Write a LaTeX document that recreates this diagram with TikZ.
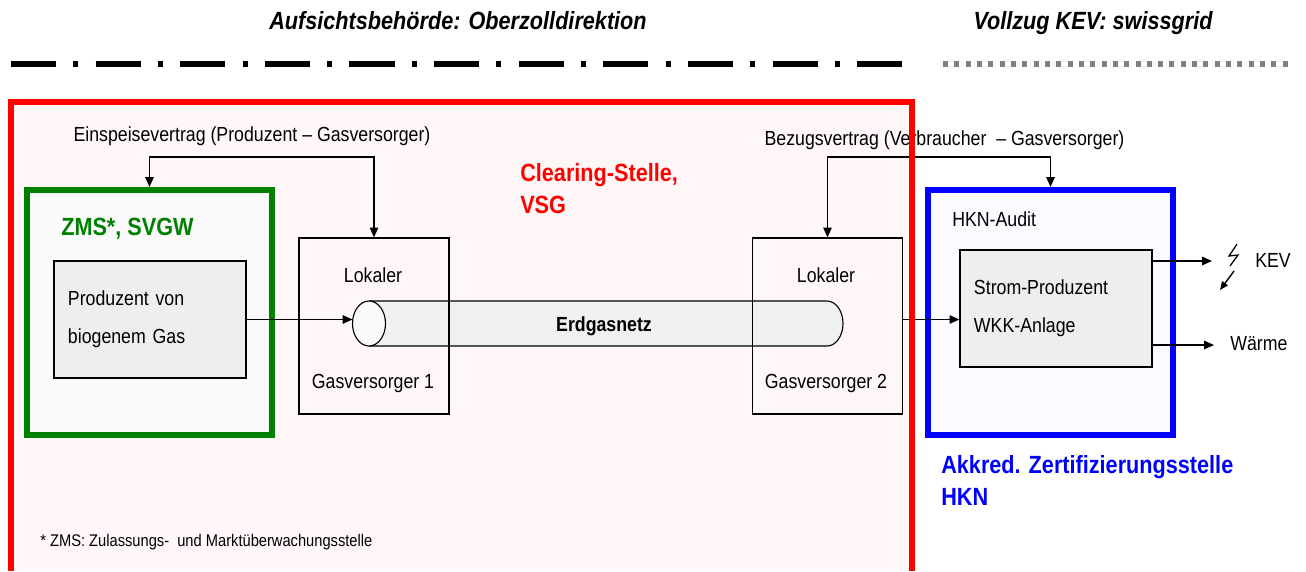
\documentclass[tikz,border=0pt]{standalone}
\usepackage{fontspec}
\setmainfont{Liberation Sans}[FakeStretch=0.87]
\usetikzlibrary{positioning,calc,arrows.meta}

\begin{document}
\begin{tikzpicture}[x=0.025cm, y=-0.025cm, every node/.style={inner sep=0pt, font=\fontsize{14.5pt}{17pt}\selectfont}]
    \tikzset{zone/.style={rectangle, draw, line width=4.25pt, minimum width=6.125cm, minimum height=6.125cm}}
    \tikzset{greybox/.style={rectangle, draw, line width=0.9pt, fill=gray!13, minimum width=4.8cm, minimum height=2.925cm, text width=4.1cm, align=left, font=\fontsize{14.5pt}{27.3pt}\selectfont}}
    \tikzset{gvbox/.style={rectangle, draw, line width=0.8pt, minimum width=3.75cm, minimum height=4.4cm}}
    \tikzset{head/.style={font=\bfseries\fontsize{17.7pt}{22.9pt}\selectfont}}
    \tikzset{line/.style={draw, line width=1pt, -{Triangle[length=7pt, width=6pt]}}}
    \tikzset{twoway/.style={draw, line width=1pt, {Triangle[length=7pt, width=6pt]}-{Triangle[length=7pt, width=6pt]}}}

    \useasboundingbox (0,0) rectangle (1306,571);
    \fill[red!3] (11,102) rectangle (912,571);

    % titles and border lines on top
    \node[font=\bfseries\itshape\fontsize{17.7pt}{20pt}\selectfont, anchor=base] (aufsicht) at (458,30) {Aufsichtsbehörde: Oberzolldirektion};
    \node[font=\bfseries\itshape\fontsize{17.7pt}{20pt}\selectfont, anchor=base] (vollzug) at (1093,30) {Vollzug KEV: swissgrid};
    \draw[line width=4.25pt, dash pattern=on 1.125cm off 0.4325cm on 0.125cm off 0.4325cm] (11,64) -- (903,64);
    \draw[gray, line width=3.9pt, dash pattern=on 0.125cm off 0.158cm] (943,64) -- (1288,64);

    % producer side
    \node[zone, draw=green!50!black, fill=gray!4] (zms) at (149.5,312.5) {};
    \node[head, text=green!50!black, anchor=base west] (zmstxt) at (61,235) {ZMS*, SVGW};
    \node[greybox] (prod) at (150,319.5) {Produzent von\\biogenem Gas};

    % gas grid as a lying cylinder
    \path[draw, line width=0.8pt, fill=gray!12] (369,301) -- (827,301) arc[start angle=90, end angle=-90, x radius=0.4cm, y radius=0.5625cm] -- (369,346);
    \draw[line width=0.8pt, fill=gray!4] (369,323.5) ellipse [x radius=0.4125cm, y radius=0.5625cm];
    \coordinate (netz) at (352.5,323.5);
    \node[font=\bfseries\fontsize{14.5pt}{17pt}\selectfont, anchor=base] (netztxt) at (604,331.7) {Erdgasnetz};

    \node[gvbox] (gv1) at (374,326) {};
    \node[anchor=base] (gv1a) at (373,282) {Lokaler};
    \node[anchor=base] (gv1b) at (373,388) {Gasversorger 1};
    \node[gvbox] (gv2) at (827.5,326) {};
    \node[anchor=base] (gv2a) at (826,282) {Lokaler};
    \node[anchor=base] (gv2b) at (826,388) {Gasversorger 2};

    % consumer side
    \node[zone, draw=blue, fill=blue!2] (hkn) at (1050.5,312.5) {};
    \node[anchor=base west] (audit) at (952,226.7) {HKN-Audit};
    \node[greybox] (wkk) at (1056,308.5) {Strom-Produzent\\WKK-Anlage};

    \node[anchor=base west] (kev) at (1255,267.3) {KEV};
    \node[anchor=base west] (waerme) at (1230,350.7) {Wärme};
    \coordinate (kevend) at (1212,261);
    \coordinate (waermeend) at (1214,345);

    \path[line] (prod.east) -- (prod.east -| netz);
    \path[line] (prod.east -| gv2.east) -- (prod.east -| wkk.west);
    \path[line] (wkk.east |- kevend) -- (kevend);
    \path[line] (wkk.east |- waermeend) -- (waermeend);
    \draw[line width=0.9pt] (1237,244) -- (1229,256) -- (1238,255) -- (1230,266);
    \draw[line width=1pt, -{Triangle[length=6pt, width=5pt]}] (1234,271) -- (1220,290);

    % contracts
    \node[anchor=base] (einsp) at (252,142) {Einspeisevertrag (Produzent – Gasversorger)};
    \node[anchor=base] (bezug) at (944.5,146) {Bezugsvertrag (Verbraucher~ – Gasversorger)};
    \path[twoway] (zms.north) -- ++(0,-30) -| (gv1.north);
    \path[twoway] (gv2.north) |- ($(hkn.north)+(0,-30)$) -- (hkn.north);

    \node[head, align=left, text=red, anchor=west] (clear) at (520,188.7) {Clearing-Stelle,\\VSG};
    \node[head, align=left, text=blue, anchor=west] (akkred) at (941,480.4) {Akkred. Zertifizierungsstelle\\HKN};
    \node[anchor=base west, font=\fontsize{12pt}{14pt}\selectfont] (fussnote) at (40,546.7) {* ZMS: Zulassungs-~ und Marktüberwachungsstelle};

    \draw[red, line width=4.25pt] (11,571) -- (11,102) -- (912,102) -- (912,571);
\end{tikzpicture}
\end{document}
